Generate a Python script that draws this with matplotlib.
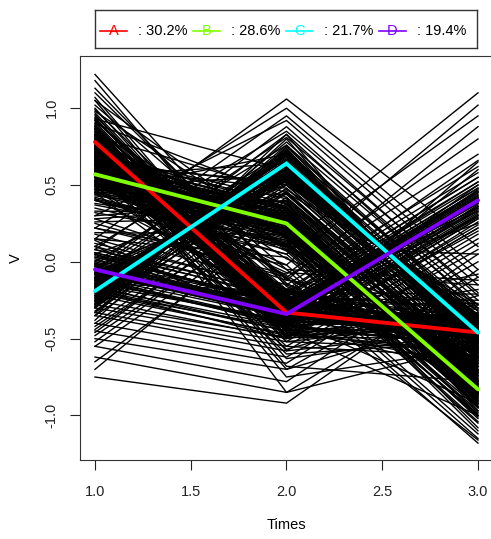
import matplotlib
matplotlib.use("Agg")
import matplotlib.pyplot as plt
from matplotlib.lines import Line2D

plt.rcParams['font.family'] = ['Liberation Sans', 'DejaVu Sans']

times = [1, 2, 3]

# individual trajectories, one list per time, grouped by cluster
a_t1 = [0.95, 0.62, 1.10, 0.78, 0.55, 0.88, 0.71, 1.02, 0.45, 0.83, 0.67, 0.92, 0.58, 1.18, 0.74, 0.81, 0.49, 0.99, 0.69, 0.86,
        0.63, 1.05, 0.77, 0.52, 0.91, 0.73, 0.84, 0.60, 1.13, 0.79, 0.41, 0.97, 0.70, 0.87, 0.56, 0.76, 1.07, 0.65, 0.89, 0.82,
        0.50, 0.94, 0.72, 0.80, 0.61, 1.22, 0.75, 0.85, 0.68, 0.93, 0.59, 0.79, 1.00, 0.66, 0.88, 0.72, 0.47, 0.83, 0.96, 0.74,
        0.80, 0.70, 0.86, 0.76, 0.64, 0.90, 0.73, 0.82, 0.68, 0.78, 0.84, 0.62, 0.75, 0.88, 0.71, 0.79, 0.66, 0.83, 0.74, 0.92,
        0.69, 0.77, 0.81, 0.65, 0.87, 0.72, 0.78, 0.60, 0.85, 0.76, 0.70, 0.82, 0.67, 0.79, 0.74, 0.89, 0.63, 0.80, 0.73, 0.77]
a_t2 = [-0.30, -0.55, -0.12, -0.41, -0.20, -0.68, -0.33, -0.05, -0.47, -0.26, -0.38, -0.15, -0.60, -0.28, -0.44, 0.02, -0.35, -0.22, -0.52, -0.31,
        -0.09, -0.42, -0.75, -0.18, -0.36, -0.27, -0.49, -0.40, -0.14, -0.58, -0.24, -0.33, 0.10, -0.46, -0.29, -0.63, -0.37, -0.21, -0.52, -0.32,
        -0.07, -0.43, -0.26, -0.85, -0.34, -0.16, -0.39, -0.48, -0.23, -0.30, -0.57, -0.11, -0.36, -0.45, -0.25, -0.70, -0.33, -0.19, -0.41, -0.29,
        -0.35, -0.25, -0.42, -0.30, -0.18, -0.38, -0.28, -0.45, -0.33, -0.22, -0.40, -0.31, -0.27, -0.48, -0.36, -0.20, -0.34, -0.43, -0.29, -0.24,
        -0.39, -0.32, -0.50, -0.26, -0.37, -0.30, -0.21, -0.44, -0.35, -0.28, -0.41, -0.33, -0.23, -0.38, -0.31, -0.46, -0.27, -0.36, -0.32, -0.29]
a_t3 = [-0.45, -0.62, -0.30, -0.55, -0.21, -0.78, -0.40, -0.12, -0.58, -0.49, -0.35, -0.66, -0.52, -0.27, -0.71, -0.43, -0.08, -0.60, -0.38, -0.47,
        -0.85, -0.33, -0.56, -0.41, -0.18, -0.64, -0.50, -0.36, -0.74, -0.44, -0.25, -0.53, 0.05, -0.61, -0.39, -0.46, -0.92, -0.31, -0.57, -0.48,
        -0.15, -0.68, -0.42, -0.54, -0.37, -0.81, -0.45, -0.28, -0.59, -0.51, -0.22, -0.65, -0.40, -1.00, -0.47, -0.34, -0.56, -0.43, -0.63, -0.39,
        -0.48, -0.40, -0.55, -0.36, -0.50, -0.44, -0.60, -0.38, -0.47, -0.52, -0.33, -0.45, -0.58, -0.42, -0.49, -0.37, -0.54, -0.46, -0.62, -0.41,
        -0.43, -0.51, -0.35, -0.48, -0.57, -0.44, -0.39, -0.53, -0.46, -0.50, -0.40, -0.56, -0.45, -0.34, -0.49, -0.42, -0.59, -0.47, -0.43, -0.51]

b_t1 = [0.60, 0.35, 0.82, 0.48, 0.71, 0.22, 0.55, 0.93, 0.41, 0.66, 0.58, 0.30, 0.77, 0.50, 0.63, 1.05, 0.44, 0.69, 0.38, 0.57,
        0.85, 0.26, 0.61, 0.52, 0.74, 0.46, 0.15, 0.68, 0.54, 0.90, 0.40, 0.64, 0.49, 0.79, 0.33, 0.59, 0.72, 0.45, 0.98, 0.53,
        0.62, 0.28, 0.67, 0.56, 0.80, 0.43, 0.70, 0.37, 0.60, 0.87, 0.51, 0.65, 0.19, 0.57, 0.75, 0.47, 0.58,
        0.58, 0.50, 0.64, 0.55, 0.45, 0.68, 0.53, 0.61, 0.48, 0.57, 0.63, 0.42, 0.56, 0.70, 0.52, 0.60, 0.46, 0.59, 0.54, 0.66,
        0.49, 0.57, 0.62, 0.44, 0.65, 0.51, 0.58, 0.40, 0.63, 0.55, 0.50, 0.60, 0.47, 0.56, 0.53, 0.67, 0.52, 0.59]
b_t2 = [0.28, 0.05, 0.45, 0.18, 0.36, -0.02, 0.24, 0.60, 0.12, 0.31, 0.20, 0.40, 0.08, 0.27, 0.52, 0.15, 0.33, -0.10, 0.22, 0.38,
        0.10, 0.29, 0.48, 0.17, 0.25, 0.70, 0.03, 0.34, 0.21, 0.42, 0.13, 0.26, 0.56, 0.19, 0.32, -0.05, 0.23, 0.44, 0.16, 0.30,
        0.07, 0.37, 0.25, 0.64, 0.11, 0.28, 0.41, 0.14, 0.35, -0.18, 0.22, 0.50, 0.18, 0.27, 0.09, 0.39, 0.24,
        0.25, 0.18, 0.32, 0.22, 0.12, 0.35, 0.20, 0.28, 0.15, 0.26, 0.30, 0.10, 0.24, 0.38, 0.19, 0.27, 0.14, 0.29, 0.23, 0.33,
        0.17, 0.25, 0.31, 0.11, 0.34, 0.21, 0.26, 0.08, 0.30, 0.22, 0.18, 0.28, 0.16, 0.24, 0.20, 0.36, 0.19, 0.27]
b_t3 = [-0.80, -1.05, -0.62, -0.91, -0.75, -1.12, -0.84, -0.55, -0.97, -0.70, -0.88, -0.66, -1.00, -0.79, -0.48, -0.93, -0.73, -1.18, -0.86, -0.68,
        -0.95, -0.82, -0.59, -1.08, -0.77, -0.42, -0.99, -0.71, -0.89, -0.64, -1.02, -0.83, -0.52, -0.94, -0.76, -1.15, -0.85, -0.61, -0.92, -0.74,
        -1.04, -0.69, -0.87, -0.45, -0.98, -0.80, -0.63, -1.10, -0.72, -1.16, -0.84, -0.57, -0.90, -0.78, -1.01, -0.67, -0.86,
        -0.83, -0.76, -0.90, -0.80, -0.70, -0.94, -0.78, -0.86, -0.73, -0.84, -0.88, -0.68, -0.81, -0.97, -0.77, -0.85, -0.72, -0.87, -0.79, -0.92,
        -0.75, -0.83, -0.89, -0.66, -0.91, -0.78, -0.84, -0.64, -0.88, -0.80, -0.74, -0.86, -0.71, -0.82, -0.77, -0.95, -0.79, -0.85]

c_t1 = [-0.15, -0.42, 0.10, -0.28, -0.05, -0.55, -0.20, 0.22, -0.35, -0.12, -0.24, 0.05, -0.48, -0.18, -0.30, 0.30, -0.08, -0.38, -0.22, -0.65,
        -0.02, -0.26, -0.14, -0.44, 0.15, -0.32, -0.10, -0.20, -0.52, -0.06, -0.29, 0.00, -0.40, -0.17, -0.25, -0.70, -0.11, -0.33, 0.08, -0.23,
        -0.46, -0.16, -0.27,
        -0.20, -0.12, -0.27, -0.16, -0.05, -0.30, -0.18, -0.24, -0.10, -0.22, -0.28, -0.08, -0.19, -0.33, -0.14, -0.21, -0.07, -0.25, -0.17, -0.29,
        -0.11, -0.20, -0.26, -0.03, -0.23, -0.15, -0.19, -0.35, -0.13]
c_t2 = [0.62, 0.40, 0.85, 0.55, 0.72, 0.30, 0.66, 1.00, 0.48, 0.60, 0.78, 0.52, 0.35, 0.69, 0.58, 0.92, 0.44, 0.75, 0.63, 0.25,
        0.81, 0.57, 0.67, 0.42, 1.06, 0.54, 0.71, 0.61, 0.38, 0.88, 0.50, 0.76, 0.46, 0.65, 0.59, 0.33, 0.83, 0.56, 0.95, 0.64,
        0.45, 0.70, 0.53,
        0.64, 0.56, 0.72, 0.60, 0.50, 0.76, 0.58, 0.68, 0.53, 0.65, 0.70, 0.47, 0.62, 0.80, 0.57, 0.66, 0.51, 0.69, 0.61, 0.74,
        0.55, 0.64, 0.71, 0.45, 0.73, 0.59, 0.63, 0.83, 0.54]
c_t3 = [-0.42, -0.70, -0.20, -0.55, -0.35, -0.82, -0.48, -0.05, -0.62, -0.40, -0.28, -0.58, -0.90, -0.45, -0.52, -0.15, -0.66, -0.38, -0.47, -1.00,
        -0.25, -0.50, -0.43, -0.74, 0.10, -0.56, -0.32, -0.46, -0.78, -0.22, -0.60, -0.36, -0.68, -0.44, -0.51, -0.95, -0.30, -0.57, -0.10, -0.49,
        -0.72, -0.39, -0.53,
        -0.46, -0.38, -0.54, -0.42, -0.32, -0.58, -0.40, -0.50, -0.35, -0.47, -0.52, -0.30, -0.44, -0.62, -0.39, -0.48, -0.34, -0.51, -0.43, -0.56,
        -0.37, -0.46, -0.53, -0.28, -0.55, -0.41, -0.45, -0.65, -0.36]

d_t1 = [-0.02, -0.35, 0.25, -0.18, 0.10, -0.50, -0.08, 0.40, -0.25, 0.05, -0.12, -0.62, 0.18, -0.30, 0.00, -0.15, 0.32, -0.40, -0.05, 0.12,
        -0.22, -0.75, 0.08, -0.10, 0.22, -0.33, -0.03, 0.50, -0.20, 0.03, -0.45, -0.07, 0.15, -0.28, 0.06, -0.13, -0.55, 0.28, -0.01, -0.17,
        -0.05, 0.03, -0.12, -0.01, 0.08, -0.16, -0.04, 0.05, -0.09, -0.06, 0.10, -0.14, -0.02, -0.20, 0.01, -0.07, 0.06, -0.11, -0.03, 0.14,
        -0.08, -0.05, 0.02, -0.18, 0.04, -0.10]
d_t2 = [-0.32, -0.58, -0.10, -0.45, -0.22, -0.70, -0.35, 0.05, -0.50, -0.28, -0.40, -0.85, -0.15, -0.52, -0.30, -0.38, 0.10, -0.62, -0.33, -0.18,
        -0.47, -0.92, -0.25, -0.36, -0.08, -0.55, -0.30, -0.02, -0.43, -0.26, -0.66, -0.34, -0.20, -0.49, -0.29, -0.39, -0.78, -0.12, -0.31, -0.42,
        -0.34, -0.27, -0.41, -0.30, -0.21, -0.45, -0.32, -0.38, -0.25, -0.35, -0.40, -0.19, -0.33, -0.48, -0.28, -0.36, -0.23, -0.39, -0.31, -0.44,
        -0.26, -0.34, -0.37, -0.50, -0.29, -0.42]
d_t3 = [0.42, 0.15, 0.70, 0.30, 0.55, 0.00, 0.38, 0.95, 0.22, 0.48, 0.35, -0.10, 0.62, 0.26, 0.45, 0.33, 1.10, 0.08, 0.40, 0.58,
        0.28, -0.05, 0.50, 0.36, 0.80, 0.18, 0.43, 1.02, 0.31, 0.52, 0.12, 0.39, 0.66, 0.24, 0.46, 0.34, 0.05, 0.88, 0.41, 0.29,
        0.40, 0.48, 0.32, 0.44, 0.55, 0.28, 0.38, 0.50, 0.35, 0.42, 0.60, 0.25, 0.39, 0.20, 0.46, 0.36, 0.52, 0.30, 0.43, 0.65,
        0.33, 0.41, 0.47, 0.22, 0.45, 0.37]

# cluster means
clusters = ['A', 'B', 'C', 'D']
shares = ['30.2%', '28.6%', '21.7%', '19.4%']
mean_a = [0.78, -0.33, -0.46]
mean_b = [0.57, 0.25, -0.83]
mean_c = [-0.19, 0.64, -0.46]
mean_d = [-0.05, -0.34, 0.40]
colors = ['#FF0000', '#80FF00', '#00FFFF', '#8000FF']

fig = plt.figure(figsize=(4.91, 5.39), dpi=100)
ax = fig.add_axes([0.1623, 0.1466, 0.8424, 0.7495])

for t1, t2, t3 in [(a_t1, a_t2, a_t3), (b_t1, b_t2, b_t3), (c_t1, c_t2, c_t3), (d_t1, d_t2, d_t3)]:
    for y1, y2, y3 in zip(t1, t2, t3):
        ax.plot(times, [y1, y2, y3], color='black', lw=1.0)

for m, col in zip([mean_a, mean_b, mean_c, mean_d], colors):
    ax.plot(times, m, color=col, lw=2.8, solid_capstyle='round', solid_joinstyle='miter')

ax.set_xlim(0.92, 3.08)
ax.set_ylim(-1.29, 1.34)
ax.set_xticks([1.0, 1.5, 2.0, 2.5, 3.0])
ax.set_xticklabels(['1.0', '1.5', '2.0', '2.5', '3.0'])
ax.set_yticks([-1.0, -0.5, 0.0, 0.5, 1.0])
ax.set_yticklabels(['-1.0', '-0.5', '0.0', '0.5', '1.0'], rotation=90, va='center')
ax.tick_params(direction='out', length=7, width=0.8, labelsize=10.5, colors='#222222')
ax.tick_params(axis='x', pad=11)
ax.tick_params(axis='y', pad=8)
for s in ax.spines.values():
    s.set_color('#333333')
    s.set_linewidth(0.8)
ax.set_xlabel('Times', fontsize=10.5, labelpad=14)
ax.set_ylabel('V', fontsize=10.5, labelpad=16)

# legend drawn in its own framed axes
lax = fig.add_axes([95 / 491, 1 - 48 / 539, 382 / 491, 38 / 539])
lax.set_xlim(95, 477)
lax.set_ylim(0, 38)
lax.set_xticks([])
lax.set_yticks([])
for s in lax.spines.values():
    s.set_color('#333333')
    s.set_linewidth(1.0)
for i, (name, share, col) in enumerate(zip(clusters, shares, colors)):
    x0 = 100 + i * 93
    lax.add_line(Line2D([x0, x0 + 27], [17, 17], color=col, lw=1.2))
    lax.text(x0 + 13.5, 17, name, color=col, fontsize=10.5, ha='center', va='center')
    lax.text(x0 + 38, 17, ': ' + share, color='black', fontsize=10.5, ha='left', va='center')

fig.savefig('out.png', dpi=100)
